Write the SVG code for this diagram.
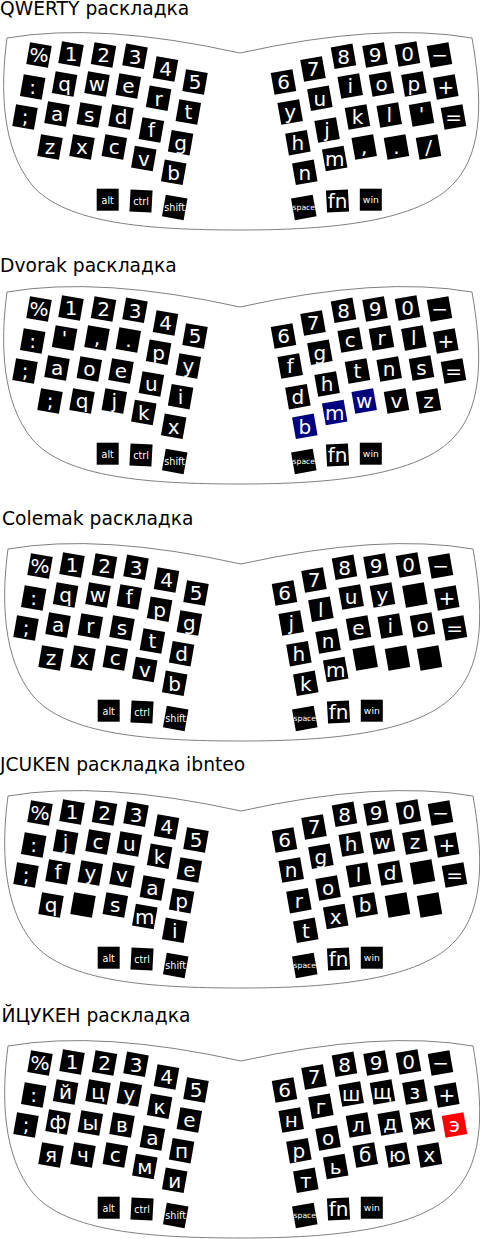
<svg xmlns="http://www.w3.org/2000/svg" xmlns:xlink="http://www.w3.org/1999/xlink" width="480" height="1239" viewBox="0 0 480 1239">
<style>
.ol{fill:#fff;stroke:#808080;stroke-width:1}
.k{fill:#000}
.k text{fill:#fff;font-family:"DejaVu Sans","Liberation Sans",sans-serif;font-size:20px;text-anchor:middle}
.k text.s{font-size:9.6px}
.k text.w{font-size:9.2px}
.k text.sp{font-size:7.7px}
.navy{fill:#000080}
.red{fill:#ff0000}
.t{font-family:"DejaVu Sans","Liberation Sans",sans-serif;font-size:18.7px;fill:#000}
</style>
<defs>
<path id="outline" d="M7,38 Q100,22 240,53 Q380,22 472,38 C482,95 484,150 455,182 C420,222 330,230 240,230 C150,230 65,224 32,185 C2,148 0,90 7,38 Z"/>
<rect id="kl" x="-11" y="-11" width="22" height="22" transform="rotate(10)"/>
<rect id="kr" x="-11" y="-11" width="22" height="22" transform="rotate(-10)"/>
<rect id="k0" x="-11" y="-11" width="22" height="22"/>
<rect id="kc" x="-11" y="-11" width="22" height="22" transform="rotate(3)"/>
<rect id="kf" x="-11" y="-11" width="22" height="22" transform="rotate(-3)"/>
</defs>

<text class="t" x="0" y="15">QWERTY раскладка</text>
<text class="t" x="0" y="271.5">Dvorak раскладка</text>
<text class="t" x="2" y="525">Colemak раскладка</text>
<text class="t" x="0" y="770.5">JCUKEN раскладка ibnteo</text>
<text class="t" x="1.5" y="1021.5">ЙЦУКЕН раскладка</text>

<!-- QWERTY -->
<g id="qwerty" transform="translate(0,0)">
<use href="#outline" class="ol"/>
<g id="qw-L00" class="k" transform="translate(39,55)"><use href="#kl"/><text y="7.3">%</text></g>
<g id="qw-L01" class="k" transform="translate(71,54)"><use href="#kl"/><text y="7.3">1</text></g>
<g id="qw-L02" class="k" transform="translate(103.5,55)"><use href="#kl"/><text y="7.3">2</text></g>
<g id="qw-L03" class="k" transform="translate(135,56.3)"><use href="#kl"/><text y="7.3">3</text></g>
<g id="qw-L04" class="k" transform="translate(165.5,69)"><use href="#kl"/><text y="7.3">4</text></g>
<g id="qw-L05" class="k" transform="translate(195,82)"><use href="#kl"/><text y="7.3">5</text></g>
<g id="qw-L10" class="k" transform="translate(32.7,87)"><use href="#kl"/><text y="7.3">:</text></g>
<g id="qw-L11" class="k" transform="translate(64.6,84)"><use href="#kl"/><text y="7.3">q</text></g>
<g id="qw-L12" class="k" transform="translate(97,84)"><use href="#kl"/><text y="7.3">w</text></g>
<g id="qw-L13" class="k" transform="translate(128.3,86)"><use href="#kl"/><text y="7.3">e</text></g>
<g id="qw-L14" class="k" transform="translate(158.6,98.2)"><use href="#kl"/><text y="7.3">r</text></g>
<g id="qw-L15" class="k" transform="translate(188.3,112)"><use href="#kl"/><text y="7.3">t</text></g>
<g id="qw-L20" class="k" transform="translate(25,117)"><use href="#kl"/><text y="7.3">;</text></g>
<g id="qw-L21" class="k" transform="translate(57,114)"><use href="#kl"/><text y="7.3">a</text></g>
<g id="qw-L22" class="k" transform="translate(89.3,115)"><use href="#kl"/><text y="7.3">s</text></g>
<g id="qw-L23" class="k" transform="translate(121,117)"><use href="#kl"/><text y="7.3">d</text></g>
<g id="qw-L24" class="k" transform="translate(151.4,130)"><use href="#kl"/><text y="7.3">f</text></g>
<g id="qw-L25" class="k" transform="translate(180.6,142.7)"><use href="#kl"/><text y="7.3">g</text></g>
<g id="qw-L31" class="k" transform="translate(50,147)"><use href="#kl"/><text y="7.3">z</text></g>
<g id="qw-L32" class="k" transform="translate(82,147)"><use href="#kl"/><text y="7.3">x</text></g>
<g id="qw-L33" class="k" transform="translate(114.3,147)"><use href="#kl"/><text y="7.3">c</text></g>
<g id="qw-L34" class="k" transform="translate(143.8,158.5)"><use href="#kl"/><text y="7.3">v</text></g>
<g id="qw-L35" class="k" transform="translate(173.7,172.3)"><use href="#kl"/><text y="7.3">b</text></g>
<g id="qw-alt" class="k" transform="translate(107.7,199.7)"><use href="#k0"/><text class="s" y="4">alt</text></g>
<g id="qw-ctrl" class="k" transform="translate(141,201)"><use href="#kc"/><text class="s" y="4">ctrl</text></g>
<g id="qw-shift" class="k" transform="translate(174.7,207.4)"><use href="#kl"/><text class="s" y="4">shift</text></g>
<g id="qw-R00" class="k" transform="translate(283.5,82)"><use href="#kr"/><text y="7.3">6</text></g>
<g id="qw-R01" class="k" transform="translate(313,69)"><use href="#kr"/><text y="7.3">7</text></g>
<g id="qw-R02" class="k" transform="translate(343.5,56.3)"><use href="#kr"/><text y="7.3">8</text></g>
<g id="qw-R03" class="k" transform="translate(375,55)"><use href="#kr"/><text y="7.3">9</text></g>
<g id="qw-R04" class="k" transform="translate(407.5,54)"><use href="#kr"/><text y="7.3">0</text></g>
<g id="qw-R05" class="k" transform="translate(439.5,55)"><use href="#kr"/><text y="7.3">−</text></g>
<g id="qw-R10" class="k" transform="translate(290.2,112)"><use href="#kr"/><text y="7.3">y</text></g>
<g id="qw-R11" class="k" transform="translate(319.9,98.2)"><use href="#kr"/><text y="7.3">u</text></g>
<g id="qw-R12" class="k" transform="translate(350.2,86)"><use href="#kr"/><text y="7.3">i</text></g>
<g id="qw-R13" class="k" transform="translate(381.5,84)"><use href="#kr"/><text y="7.3">o</text></g>
<g id="qw-R14" class="k" transform="translate(413.9,84)"><use href="#kr"/><text y="7.3">p</text></g>
<g id="qw-R15" class="k" transform="translate(445.8,87)"><use href="#kr"/><text y="7.3">+</text></g>
<g id="qw-R20" class="k" transform="translate(297.9,142.7)"><use href="#kr"/><text y="7.3">h</text></g>
<g id="qw-R21" class="k" transform="translate(327.1,130)"><use href="#kr"/><text y="7.3">j</text></g>
<g id="qw-R22" class="k" transform="translate(357.5,117)"><use href="#kr"/><text y="7.3">k</text></g>
<g id="qw-R23" class="k" transform="translate(389.2,115)"><use href="#kr"/><text y="7.3">l</text></g>
<g id="qw-R24" class="k" transform="translate(421.5,114)"><use href="#kr"/><text y="7.3">'</text></g>
<g id="qw-R25" class="k" transform="translate(453.5,117)"><use href="#kr"/><text y="7.3">=</text></g>
<g id="qw-R30" class="k" transform="translate(304.8,172.3)"><use href="#kr"/><text y="7.3">n</text></g>
<g id="qw-R31" class="k" transform="translate(334.7,158.5)"><use href="#kr"/><text y="7.3">m</text></g>
<g id="qw-R32" class="k" transform="translate(364.2,147)"><use href="#kr"/><text y="7.3">,</text></g>
<g id="qw-R33" class="k" transform="translate(396.5,147)"><use href="#kr"/><text y="7.3">.</text></g>
<g id="qw-R34" class="k" transform="translate(428.5,147)"><use href="#kr"/><text y="7.3">/</text></g>
<g id="qw-space" class="k" transform="translate(303.8,207.4)"><use href="#kr"/><text class="sp" y="2.8">space</text></g>
<g id="qw-fn" class="k" transform="translate(337.5,201)"><use href="#kf"/><text y="7.3">fn</text></g>
<g id="qw-win" class="k" transform="translate(370.8,199.7)"><use href="#k0"/><text class="w" y="3">win</text></g>
</g>

<!-- Dvorak -->
<g id="dvorak" transform="translate(0,254)">
<use href="#outline" class="ol"/>
<g id="dv-L00" class="k" transform="translate(39,55)"><use href="#kl"/><text y="7.3">%</text></g>
<g id="dv-L01" class="k" transform="translate(71,54)"><use href="#kl"/><text y="7.3">1</text></g>
<g id="dv-L02" class="k" transform="translate(103.5,55)"><use href="#kl"/><text y="7.3">2</text></g>
<g id="dv-L03" class="k" transform="translate(135,56.3)"><use href="#kl"/><text y="7.3">3</text></g>
<g id="dv-L04" class="k" transform="translate(165.5,69)"><use href="#kl"/><text y="7.3">4</text></g>
<g id="dv-L05" class="k" transform="translate(195,82)"><use href="#kl"/><text y="7.3">5</text></g>
<g id="dv-L10" class="k" transform="translate(32.7,87)"><use href="#kl"/><text y="7.3">:</text></g>
<g id="dv-L11" class="k" transform="translate(64.6,84)"><use href="#kl"/><text y="7.3">'</text></g>
<g id="dv-L12" class="k" transform="translate(97,84)"><use href="#kl"/><text y="7.3">,</text></g>
<g id="dv-L13" class="k" transform="translate(128.3,86)"><use href="#kl"/><text y="7.3">.</text></g>
<g id="dv-L14" class="k" transform="translate(158.6,98.2)"><use href="#kl"/><text y="7.3">p</text></g>
<g id="dv-L15" class="k" transform="translate(188.3,112)"><use href="#kl"/><text y="7.3">y</text></g>
<g id="dv-L20" class="k" transform="translate(25,117)"><use href="#kl"/><text y="7.3">;</text></g>
<g id="dv-L21" class="k" transform="translate(57,114)"><use href="#kl"/><text y="7.3">a</text></g>
<g id="dv-L22" class="k" transform="translate(89.3,115)"><use href="#kl"/><text y="7.3">o</text></g>
<g id="dv-L23" class="k" transform="translate(121,117)"><use href="#kl"/><text y="7.3">e</text></g>
<g id="dv-L24" class="k" transform="translate(151.4,130)"><use href="#kl"/><text y="7.3">u</text></g>
<g id="dv-L25" class="k" transform="translate(180.6,142.7)"><use href="#kl"/><text y="7.3">i</text></g>
<g id="dv-L31" class="k" transform="translate(50,147)"><use href="#kl"/><text y="7.3">;</text></g>
<g id="dv-L32" class="k" transform="translate(82,147)"><use href="#kl"/><text y="7.3">q</text></g>
<g id="dv-L33" class="k" transform="translate(114.3,147)"><use href="#kl"/><text y="7.3">j</text></g>
<g id="dv-L34" class="k" transform="translate(143.8,158.5)"><use href="#kl"/><text y="7.3">k</text></g>
<g id="dv-L35" class="k" transform="translate(173.7,172.3)"><use href="#kl"/><text y="7.3">x</text></g>
<g id="dv-alt" class="k" transform="translate(107.7,199.7)"><use href="#k0"/><text class="s" y="4">alt</text></g>
<g id="dv-ctrl" class="k" transform="translate(141,201)"><use href="#kc"/><text class="s" y="4">ctrl</text></g>
<g id="dv-shift" class="k" transform="translate(174.7,207.4)"><use href="#kl"/><text class="s" y="4">shift</text></g>
<g id="dv-R00" class="k" transform="translate(283.5,82)"><use href="#kr"/><text y="7.3">6</text></g>
<g id="dv-R01" class="k" transform="translate(313,69)"><use href="#kr"/><text y="7.3">7</text></g>
<g id="dv-R02" class="k" transform="translate(343.5,56.3)"><use href="#kr"/><text y="7.3">8</text></g>
<g id="dv-R03" class="k" transform="translate(375,55)"><use href="#kr"/><text y="7.3">9</text></g>
<g id="dv-R04" class="k" transform="translate(407.5,54)"><use href="#kr"/><text y="7.3">0</text></g>
<g id="dv-R05" class="k" transform="translate(439.5,55)"><use href="#kr"/><text y="7.3">−</text></g>
<g id="dv-R10" class="k" transform="translate(290.2,112)"><use href="#kr"/><text y="7.3">f</text></g>
<g id="dv-R11" class="k" transform="translate(319.9,98.2)"><use href="#kr"/><text y="7.3">g</text></g>
<g id="dv-R12" class="k" transform="translate(350.2,86)"><use href="#kr"/><text y="7.3">c</text></g>
<g id="dv-R13" class="k" transform="translate(381.5,84)"><use href="#kr"/><text y="7.3">r</text></g>
<g id="dv-R14" class="k" transform="translate(413.9,84)"><use href="#kr"/><text y="7.3">l</text></g>
<g id="dv-R15" class="k" transform="translate(445.8,87)"><use href="#kr"/><text y="7.3">+</text></g>
<g id="dv-R20" class="k" transform="translate(297.9,142.7)"><use href="#kr"/><text y="7.3">d</text></g>
<g id="dv-R21" class="k" transform="translate(327.1,130)"><use href="#kr"/><text y="7.3">h</text></g>
<g id="dv-R22" class="k" transform="translate(357.5,117)"><use href="#kr"/><text y="7.3">t</text></g>
<g id="dv-R23" class="k" transform="translate(389.2,115)"><use href="#kr"/><text y="7.3">n</text></g>
<g id="dv-R24" class="k" transform="translate(421.5,114)"><use href="#kr"/><text y="7.3">s</text></g>
<g id="dv-R25" class="k" transform="translate(453.5,117)"><use href="#kr"/><text y="7.3">=</text></g>
<g id="dv-R30" class="k navy" transform="translate(304.8,172.3)"><use href="#kr"/><text y="7.3">b</text></g>
<g id="dv-R31" class="k navy" transform="translate(334.7,158.5)"><use href="#kr"/><text y="7.3">m</text></g>
<g id="dv-R32" class="k navy" transform="translate(364.2,147)"><use href="#kr"/><text y="7.3">w</text></g>
<g id="dv-R33" class="k" transform="translate(396.5,147)"><use href="#kr"/><text y="7.3">v</text></g>
<g id="dv-R34" class="k" transform="translate(428.5,147)"><use href="#kr"/><text y="7.3">z</text></g>
<g id="dv-space" class="k" transform="translate(303.8,207.4)"><use href="#kr"/><text class="sp" y="2.8">space</text></g>
<g id="dv-fn" class="k" transform="translate(337.5,201)"><use href="#kf"/><text y="7.3">fn</text></g>
<g id="dv-win" class="k" transform="translate(370.8,199.7)"><use href="#k0"/><text class="w" y="3">win</text></g>
</g>

<!-- Colemak -->
<g id="colemak" transform="translate(1,511)">
<use href="#outline" class="ol"/>
<g id="cm-L00" class="k" transform="translate(39,55)"><use href="#kl"/><text y="7.3">%</text></g>
<g id="cm-L01" class="k" transform="translate(71,54)"><use href="#kl"/><text y="7.3">1</text></g>
<g id="cm-L02" class="k" transform="translate(103.5,55)"><use href="#kl"/><text y="7.3">2</text></g>
<g id="cm-L03" class="k" transform="translate(135,56.3)"><use href="#kl"/><text y="7.3">3</text></g>
<g id="cm-L04" class="k" transform="translate(165.5,69)"><use href="#kl"/><text y="7.3">4</text></g>
<g id="cm-L05" class="k" transform="translate(195,82)"><use href="#kl"/><text y="7.3">5</text></g>
<g id="cm-L10" class="k" transform="translate(32.7,87)"><use href="#kl"/><text y="7.3">:</text></g>
<g id="cm-L11" class="k" transform="translate(64.6,84)"><use href="#kl"/><text y="7.3">q</text></g>
<g id="cm-L12" class="k" transform="translate(97,84)"><use href="#kl"/><text y="7.3">w</text></g>
<g id="cm-L13" class="k" transform="translate(128.3,86)"><use href="#kl"/><text y="7.3">f</text></g>
<g id="cm-L14" class="k" transform="translate(158.6,98.2)"><use href="#kl"/><text y="7.3">p</text></g>
<g id="cm-L15" class="k" transform="translate(188.3,112)"><use href="#kl"/><text y="7.3">g</text></g>
<g id="cm-L20" class="k" transform="translate(25,117)"><use href="#kl"/><text y="7.3">;</text></g>
<g id="cm-L21" class="k" transform="translate(57,114)"><use href="#kl"/><text y="7.3">a</text></g>
<g id="cm-L22" class="k" transform="translate(89.3,115)"><use href="#kl"/><text y="7.3">r</text></g>
<g id="cm-L23" class="k" transform="translate(121,117)"><use href="#kl"/><text y="7.3">s</text></g>
<g id="cm-L24" class="k" transform="translate(151.4,130)"><use href="#kl"/><text y="7.3">t</text></g>
<g id="cm-L25" class="k" transform="translate(180.6,142.7)"><use href="#kl"/><text y="7.3">d</text></g>
<g id="cm-L31" class="k" transform="translate(50,147)"><use href="#kl"/><text y="7.3">z</text></g>
<g id="cm-L32" class="k" transform="translate(82,147)"><use href="#kl"/><text y="7.3">x</text></g>
<g id="cm-L33" class="k" transform="translate(114.3,147)"><use href="#kl"/><text y="7.3">c</text></g>
<g id="cm-L34" class="k" transform="translate(143.8,158.5)"><use href="#kl"/><text y="7.3">v</text></g>
<g id="cm-L35" class="k" transform="translate(173.7,172.3)"><use href="#kl"/><text y="7.3">b</text></g>
<g id="cm-alt" class="k" transform="translate(107.7,199.7)"><use href="#k0"/><text class="s" y="4">alt</text></g>
<g id="cm-ctrl" class="k" transform="translate(141,201)"><use href="#kc"/><text class="s" y="4">ctrl</text></g>
<g id="cm-shift" class="k" transform="translate(174.7,207.4)"><use href="#kl"/><text class="s" y="4">shift</text></g>
<g id="cm-R00" class="k" transform="translate(283.5,82)"><use href="#kr"/><text y="7.3">6</text></g>
<g id="cm-R01" class="k" transform="translate(313,69)"><use href="#kr"/><text y="7.3">7</text></g>
<g id="cm-R02" class="k" transform="translate(343.5,56.3)"><use href="#kr"/><text y="7.3">8</text></g>
<g id="cm-R03" class="k" transform="translate(375,55)"><use href="#kr"/><text y="7.3">9</text></g>
<g id="cm-R04" class="k" transform="translate(407.5,54)"><use href="#kr"/><text y="7.3">0</text></g>
<g id="cm-R05" class="k" transform="translate(439.5,55)"><use href="#kr"/><text y="7.3">−</text></g>
<g id="cm-R10" class="k" transform="translate(290.2,112)"><use href="#kr"/><text y="7.3">j</text></g>
<g id="cm-R11" class="k" transform="translate(319.9,98.2)"><use href="#kr"/><text y="7.3">l</text></g>
<g id="cm-R12" class="k" transform="translate(350.2,86)"><use href="#kr"/><text y="7.3">u</text></g>
<g id="cm-R13" class="k" transform="translate(381.5,84)"><use href="#kr"/><text y="7.3">y</text></g>
<g id="cm-R14" class="k" transform="translate(413.9,84)"><use href="#kr"/></g>
<g id="cm-R15" class="k" transform="translate(445.8,87)"><use href="#kr"/><text y="7.3">+</text></g>
<g id="cm-R20" class="k" transform="translate(297.9,142.7)"><use href="#kr"/><text y="7.3">h</text></g>
<g id="cm-R21" class="k" transform="translate(327.1,130)"><use href="#kr"/><text y="7.3">n</text></g>
<g id="cm-R22" class="k" transform="translate(357.5,117)"><use href="#kr"/><text y="7.3">e</text></g>
<g id="cm-R23" class="k" transform="translate(389.2,115)"><use href="#kr"/><text y="7.3">i</text></g>
<g id="cm-R24" class="k" transform="translate(421.5,114)"><use href="#kr"/><text y="7.3">o</text></g>
<g id="cm-R25" class="k" transform="translate(453.5,117)"><use href="#kr"/><text y="7.3">=</text></g>
<g id="cm-R30" class="k" transform="translate(304.8,172.3)"><use href="#kr"/><text y="7.3">k</text></g>
<g id="cm-R31" class="k" transform="translate(334.7,158.5)"><use href="#kr"/><text y="7.3">m</text></g>
<g id="cm-R32" class="k" transform="translate(364.2,147)"><use href="#kr"/></g>
<g id="cm-R33" class="k" transform="translate(396.5,147)"><use href="#kr"/></g>
<g id="cm-R34" class="k" transform="translate(428.5,147)"><use href="#kr"/></g>
<g id="cm-space" class="k" transform="translate(303.8,207.4)"><use href="#kr"/><text class="sp" y="2.8">space</text></g>
<g id="cm-fn" class="k" transform="translate(337.5,201)"><use href="#kf"/><text y="7.3">fn</text></g>
<g id="cm-win" class="k" transform="translate(370.8,199.7)"><use href="#k0"/><text class="w" y="3">win</text></g>
</g>

<!-- JCUKEN ibnteo -->
<g id="jcuken" transform="translate(1,758)">
<use href="#outline" class="ol"/>
<g id="jc-L00" class="k" transform="translate(39,55)"><use href="#kl"/><text y="7.3">%</text></g>
<g id="jc-L01" class="k" transform="translate(71,54)"><use href="#kl"/><text y="7.3">1</text></g>
<g id="jc-L02" class="k" transform="translate(103.5,55)"><use href="#kl"/><text y="7.3">2</text></g>
<g id="jc-L03" class="k" transform="translate(135,56.3)"><use href="#kl"/><text y="7.3">3</text></g>
<g id="jc-L04" class="k" transform="translate(165.5,69)"><use href="#kl"/><text y="7.3">4</text></g>
<g id="jc-L05" class="k" transform="translate(195,82)"><use href="#kl"/><text y="7.3">5</text></g>
<g id="jc-L10" class="k" transform="translate(32.7,87)"><use href="#kl"/><text y="7.3">:</text></g>
<g id="jc-L11" class="k" transform="translate(64.6,84)"><use href="#kl"/><text y="7.3">j</text></g>
<g id="jc-L12" class="k" transform="translate(97,84)"><use href="#kl"/><text y="7.3">c</text></g>
<g id="jc-L13" class="k" transform="translate(128.3,86)"><use href="#kl"/><text y="7.3">u</text></g>
<g id="jc-L14" class="k" transform="translate(158.6,98.2)"><use href="#kl"/><text y="7.3">k</text></g>
<g id="jc-L15" class="k" transform="translate(188.3,112)"><use href="#kl"/><text y="7.3">e</text></g>
<g id="jc-L20" class="k" transform="translate(25,117)"><use href="#kl"/><text y="7.3">;</text></g>
<g id="jc-L21" class="k" transform="translate(57,114)"><use href="#kl"/><text y="7.3">f</text></g>
<g id="jc-L22" class="k" transform="translate(89.3,115)"><use href="#kl"/><text y="7.3">y</text></g>
<g id="jc-L23" class="k" transform="translate(121,117)"><use href="#kl"/><text y="7.3">v</text></g>
<g id="jc-L24" class="k" transform="translate(151.4,130)"><use href="#kl"/><text y="7.3">a</text></g>
<g id="jc-L25" class="k" transform="translate(180.6,142.7)"><use href="#kl"/><text y="7.3">p</text></g>
<g id="jc-L31" class="k" transform="translate(50,147)"><use href="#kl"/><text y="7.3">q</text></g>
<g id="jc-L32" class="k" transform="translate(82,147)"><use href="#kl"/></g>
<g id="jc-L33" class="k" transform="translate(114.3,147)"><use href="#kl"/><text y="7.3">s</text></g>
<g id="jc-L34" class="k" transform="translate(143.8,158.5)"><use href="#kl"/><text y="7.3">m</text></g>
<g id="jc-L35" class="k" transform="translate(173.7,172.3)"><use href="#kl"/><text y="7.3">i</text></g>
<g id="jc-alt" class="k" transform="translate(107.7,199.7)"><use href="#k0"/><text class="s" y="4">alt</text></g>
<g id="jc-ctrl" class="k" transform="translate(141,201)"><use href="#kc"/><text class="s" y="4">ctrl</text></g>
<g id="jc-shift" class="k" transform="translate(174.7,207.4)"><use href="#kl"/><text class="s" y="4">shift</text></g>
<g id="jc-R00" class="k" transform="translate(283.5,82)"><use href="#kr"/><text y="7.3">6</text></g>
<g id="jc-R01" class="k" transform="translate(313,69)"><use href="#kr"/><text y="7.3">7</text></g>
<g id="jc-R02" class="k" transform="translate(343.5,56.3)"><use href="#kr"/><text y="7.3">8</text></g>
<g id="jc-R03" class="k" transform="translate(375,55)"><use href="#kr"/><text y="7.3">9</text></g>
<g id="jc-R04" class="k" transform="translate(407.5,54)"><use href="#kr"/><text y="7.3">0</text></g>
<g id="jc-R05" class="k" transform="translate(439.5,55)"><use href="#kr"/><text y="7.3">−</text></g>
<g id="jc-R10" class="k" transform="translate(290.2,112)"><use href="#kr"/><text y="7.3">n</text></g>
<g id="jc-R11" class="k" transform="translate(319.9,98.2)"><use href="#kr"/><text y="7.3">g</text></g>
<g id="jc-R12" class="k" transform="translate(350.2,86)"><use href="#kr"/><text y="7.3">h</text></g>
<g id="jc-R13" class="k" transform="translate(381.5,84)"><use href="#kr"/><text y="7.3">w</text></g>
<g id="jc-R14" class="k" transform="translate(413.9,84)"><use href="#kr"/><text y="7.3">z</text></g>
<g id="jc-R15" class="k" transform="translate(445.8,87)"><use href="#kr"/><text y="7.3">+</text></g>
<g id="jc-R20" class="k" transform="translate(297.9,142.7)"><use href="#kr"/><text y="7.3">r</text></g>
<g id="jc-R21" class="k" transform="translate(327.1,130)"><use href="#kr"/><text y="7.3">o</text></g>
<g id="jc-R22" class="k" transform="translate(357.5,117)"><use href="#kr"/><text y="7.3">l</text></g>
<g id="jc-R23" class="k" transform="translate(389.2,115)"><use href="#kr"/><text y="7.3">d</text></g>
<g id="jc-R24" class="k" transform="translate(421.5,114)"><use href="#kr"/></g>
<g id="jc-R25" class="k" transform="translate(453.5,117)"><use href="#kr"/><text y="7.3">=</text></g>
<g id="jc-R30" class="k" transform="translate(304.8,172.3)"><use href="#kr"/><text y="7.3">t</text></g>
<g id="jc-R31" class="k" transform="translate(334.7,158.5)"><use href="#kr"/><text y="7.3">x</text></g>
<g id="jc-R32" class="k" transform="translate(364.2,147)"><use href="#kr"/><text y="7.3">b</text></g>
<g id="jc-R33" class="k" transform="translate(396.5,147)"><use href="#kr"/></g>
<g id="jc-R34" class="k" transform="translate(428.5,147)"><use href="#kr"/></g>
<g id="jc-space" class="k" transform="translate(303.8,207.4)"><use href="#kr"/><text class="sp" y="2.8">space</text></g>
<g id="jc-fn" class="k" transform="translate(337.5,201)"><use href="#kf"/><text y="7.3">fn</text></g>
<g id="jc-win" class="k" transform="translate(370.8,199.7)"><use href="#k0"/><text class="w" y="3">win</text></g>
</g>

<!-- ЙЦУКЕН -->
<g id="ycuken" transform="translate(1,1008)">
<use href="#outline" class="ol"/>
<g id="yc-L00" class="k" transform="translate(39,55)"><use href="#kl"/><text y="7.3">%</text></g>
<g id="yc-L01" class="k" transform="translate(71,54)"><use href="#kl"/><text y="7.3">1</text></g>
<g id="yc-L02" class="k" transform="translate(103.5,55)"><use href="#kl"/><text y="7.3">2</text></g>
<g id="yc-L03" class="k" transform="translate(135,56.3)"><use href="#kl"/><text y="7.3">3</text></g>
<g id="yc-L04" class="k" transform="translate(165.5,69)"><use href="#kl"/><text y="7.3">4</text></g>
<g id="yc-L05" class="k" transform="translate(195,82)"><use href="#kl"/><text y="7.3">5</text></g>
<g id="yc-L10" class="k" transform="translate(32.7,87)"><use href="#kl"/><text y="7.3">:</text></g>
<g id="yc-L11" class="k" transform="translate(64.6,84)"><use href="#kl"/><text y="7.3">й</text></g>
<g id="yc-L12" class="k" transform="translate(97,84)"><use href="#kl"/><text y="7.3">ц</text></g>
<g id="yc-L13" class="k" transform="translate(128.3,86)"><use href="#kl"/><text y="7.3">у</text></g>
<g id="yc-L14" class="k" transform="translate(158.6,98.2)"><use href="#kl"/><text y="7.3">к</text></g>
<g id="yc-L15" class="k" transform="translate(188.3,112)"><use href="#kl"/><text y="7.3">е</text></g>
<g id="yc-L20" class="k" transform="translate(25,117)"><use href="#kl"/><text y="7.3">;</text></g>
<g id="yc-L21" class="k" transform="translate(57,114)"><use href="#kl"/><text y="7.3">ф</text></g>
<g id="yc-L22" class="k" transform="translate(89.3,115)"><use href="#kl"/><text y="7.3">ы</text></g>
<g id="yc-L23" class="k" transform="translate(121,117)"><use href="#kl"/><text y="7.3">в</text></g>
<g id="yc-L24" class="k" transform="translate(151.4,130)"><use href="#kl"/><text y="7.3">а</text></g>
<g id="yc-L25" class="k" transform="translate(180.6,142.7)"><use href="#kl"/><text y="7.3">п</text></g>
<g id="yc-L31" class="k" transform="translate(50,147)"><use href="#kl"/><text y="7.3">я</text></g>
<g id="yc-L32" class="k" transform="translate(82,147)"><use href="#kl"/><text y="7.3">ч</text></g>
<g id="yc-L33" class="k" transform="translate(114.3,147)"><use href="#kl"/><text y="7.3">с</text></g>
<g id="yc-L34" class="k" transform="translate(143.8,158.5)"><use href="#kl"/><text y="7.3">м</text></g>
<g id="yc-L35" class="k" transform="translate(173.7,172.3)"><use href="#kl"/><text y="7.3">и</text></g>
<g id="yc-alt" class="k" transform="translate(107.7,199.7)"><use href="#k0"/><text class="s" y="4">alt</text></g>
<g id="yc-ctrl" class="k" transform="translate(141,201)"><use href="#kc"/><text class="s" y="4">ctrl</text></g>
<g id="yc-shift" class="k" transform="translate(174.7,207.4)"><use href="#kl"/><text class="s" y="4">shift</text></g>
<g id="yc-R00" class="k" transform="translate(283.5,82)"><use href="#kr"/><text y="7.3">6</text></g>
<g id="yc-R01" class="k" transform="translate(313,69)"><use href="#kr"/><text y="7.3">7</text></g>
<g id="yc-R02" class="k" transform="translate(343.5,56.3)"><use href="#kr"/><text y="7.3">8</text></g>
<g id="yc-R03" class="k" transform="translate(375,55)"><use href="#kr"/><text y="7.3">9</text></g>
<g id="yc-R04" class="k" transform="translate(407.5,54)"><use href="#kr"/><text y="7.3">0</text></g>
<g id="yc-R05" class="k" transform="translate(439.5,55)"><use href="#kr"/><text y="7.3">−</text></g>
<g id="yc-R10" class="k" transform="translate(290.2,112)"><use href="#kr"/><text y="7.3">н</text></g>
<g id="yc-R11" class="k" transform="translate(319.9,98.2)"><use href="#kr"/><text y="7.3">г</text></g>
<g id="yc-R12" class="k" transform="translate(350.2,86)"><use href="#kr"/><text y="7.3">ш</text></g>
<g id="yc-R13" class="k" transform="translate(381.5,84)"><use href="#kr"/><text y="7.3">щ</text></g>
<g id="yc-R14" class="k" transform="translate(413.9,84)"><use href="#kr"/><text y="7.3">з</text></g>
<g id="yc-R15" class="k" transform="translate(445.8,87)"><use href="#kr"/><text y="7.3">+</text></g>
<g id="yc-R20" class="k" transform="translate(297.9,142.7)"><use href="#kr"/><text y="7.3">р</text></g>
<g id="yc-R21" class="k" transform="translate(327.1,130)"><use href="#kr"/><text y="7.3">о</text></g>
<g id="yc-R22" class="k" transform="translate(357.5,117)"><use href="#kr"/><text y="7.3">л</text></g>
<g id="yc-R23" class="k" transform="translate(389.2,115)"><use href="#kr"/><text y="7.3">д</text></g>
<g id="yc-R24" class="k" transform="translate(421.5,114)"><use href="#kr"/><text y="7.3">ж</text></g>
<g id="yc-R25" class="k red" transform="translate(453.5,117)"><use href="#kr"/><text y="7.3">э</text></g>
<g id="yc-R30" class="k" transform="translate(304.8,172.3)"><use href="#kr"/><text y="7.3">т</text></g>
<g id="yc-R31" class="k" transform="translate(334.7,158.5)"><use href="#kr"/><text y="7.3">ь</text></g>
<g id="yc-R32" class="k" transform="translate(364.2,147)"><use href="#kr"/><text y="7.3">б</text></g>
<g id="yc-R33" class="k" transform="translate(396.5,147)"><use href="#kr"/><text y="7.3">ю</text></g>
<g id="yc-R34" class="k" transform="translate(428.5,147)"><use href="#kr"/><text y="7.3">х</text></g>
<g id="yc-space" class="k" transform="translate(303.8,207.4)"><use href="#kr"/><text class="sp" y="2.8">space</text></g>
<g id="yc-fn" class="k" transform="translate(337.5,201)"><use href="#kf"/><text y="7.3">fn</text></g>
<g id="yc-win" class="k" transform="translate(370.8,199.7)"><use href="#k0"/><text class="w" y="3">win</text></g>
</g>
</svg>
